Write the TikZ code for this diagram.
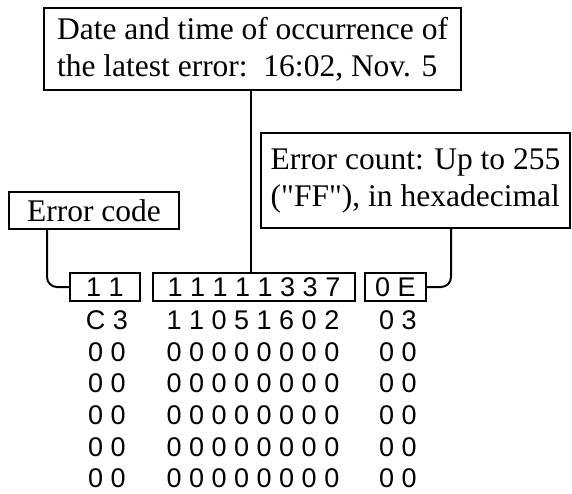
\documentclass[tikz,border=0pt]{standalone}
\usepackage{fontspec}
\setmainfont{Liberation Serif}[Ligatures=TeXOff]
\newfontfamily\datafont{Liberation Sans}
\begin{document}
\begin{tikzpicture}[x=1pt,y=-1pt,
  lbl/.style={draw, line width=2pt, inner sep=0pt, align=left, font=\fontsize{31.5}{37}\selectfont},
  dbox/.style={draw, line width=2pt, inner sep=0pt, minimum height=28pt, font=\datafont\fontsize{27}{31.7}\selectfont},
  dtxt/.style={anchor=base, inner sep=0pt, font=\datafont\fontsize{27}{31.7}\selectfont},
  conn/.style={line width=2pt, rounded corners=10pt}]
\useasboundingbox (0,0) rectangle (572,494);
% label boxes
\node[lbl, minimum width=417pt, minimum height=82pt] (datebox) at (252.5,49)
  {Date and time of occurrence of\\the latest error:\ \ 16:02, Nov. 5};
\node[lbl, minimum width=309pt, minimum height=95pt] (ecount) at (415.5,180.5)
  {Error count: Up to 255\\("FF"), in hexadecimal};
\node[lbl, minimum width=170pt, minimum height=37pt] (ecode) at (94,210.5)
  {Error code};
% data boxes
\node[dbox, minimum width=70pt] (b1) at (105,287) {1 1};
\node[dbox, minimum width=202pt] (b2) at (254,287) {1 1 1 1 1 3 3 7};
\node[dbox, minimum width=61pt] (b3) at (395.5,287) {0 E};
% connectors
\draw[conn] ([xshift=-47pt]ecode.south) |- (b1.west);
\draw[conn] ([xshift=35.5pt]ecount.south) |- (b3.east);
\draw[conn] ([xshift=-3pt]b2.north) -- ([xshift=-3pt]b2.north |- datebox.south);
% data rows
\node[dtxt] (r1a) at (107,329.3) {C 3};
\node[dtxt] (r1b) at (253,329.3) {1 1 0 5 1 6 0 2};
\node[dtxt] (r1c) at (398,329.3) {0 3};
\foreach \i/\y in {2/361,3/392.7,4/424.4,5/456.1,6/487.8}{
  \node[dtxt] (r\i a) at (107,\y) {0 0};
  \node[dtxt] (r\i b) at (253,\y) {0 0 0 0 0 0 0 0};
  \node[dtxt] (r\i c) at (398,\y) {0 0};
}
\end{tikzpicture}
\end{document}
